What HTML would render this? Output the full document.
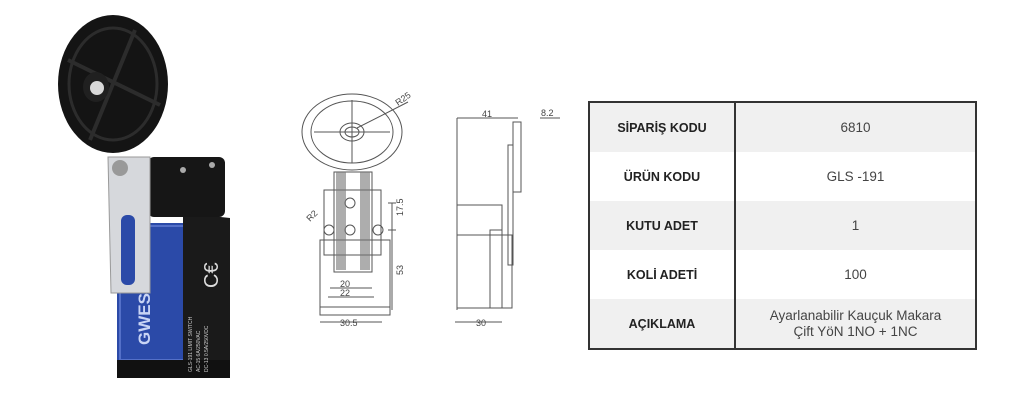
<!DOCTYPE html>
<html><head><meta charset="utf-8"><style>
body{margin:0;width:1024px;height:404px;background:#fff;overflow:hidden;position:relative;font-family:"Liberation Sans",sans-serif}
table{position:absolute;left:588px;top:101px;width:389px;height:246px;border-collapse:collapse;border:2px solid #333}
td{height:49px;text-align:center;font-size:13.5px;color:#444;padding:0;line-height:16px}
td.k{width:144px;border-right:2px solid #333;font-weight:bold;color:#222;font-size:12.5px}
tr:nth-child(odd) td{background:#f0f0f0}
</style></head><body>
<svg width="1024" height="404" style="position:absolute;left:0;top:0">
<!-- product photo -->
<rect x="117" y="223" width="70" height="140" fill="#2b4aa8"/>
<rect x="120" y="226" width="64" height="134" fill="none" stroke="#5470c8" stroke-width="2"/>
<polygon points="183,213 230,218 230,377 183,377" fill="#1a1a1a"/>
<rect x="117" y="360" width="113" height="18" fill="#111"/>
<rect x="148" y="157" width="77" height="60" rx="6" fill="#161616"/>
<circle cx="183" cy="170" r="3" fill="#aaa"/><circle cx="212" cy="165" r="3" fill="#aaa"/>
<text x="150" y="345" transform="rotate(-90 150 345)" fill="#c8d4f5" font-size="17" font-weight="bold">GWEST</text>
<text x="198" y="268" transform="rotate(-90 218 268)" fill="#ddd" font-size="20">C€</text>
<g fill="#ccc" font-size="5"><text x="192" y="372" transform="rotate(-90 192 372)">GLS-191 LIMIT SWITCH</text><text x="200" y="372" transform="rotate(-90 200 372)">AC-15 6A/250VAC</text><text x="208" y="372" transform="rotate(-90 208 372)">DC-13 0.5A/250VDC</text></g>
<polygon points="108,157 150,157 150,293 111,293" fill="#d6d8dc" stroke="#999"/>
<rect x="121" y="215" width="14" height="70" rx="6" fill="#2b4aa8"/>
<circle cx="120" cy="168" r="8" fill="#999"/>
<ellipse cx="113" cy="84" rx="55" ry="69" fill="#141414"/>
<ellipse cx="113" cy="84" rx="44" ry="56" fill="none" stroke="#2c2c2c" stroke-width="3"/>
<line x1="68" y1="60" x2="160" y2="105" stroke="#2c2c2c" stroke-width="4"/>
<line x1="90" y1="140" x2="135" y2="30" stroke="#2c2c2c" stroke-width="4"/>
<ellipse cx="96" cy="87" rx="13" ry="15" fill="#202020"/>
<circle cx="97" cy="88" r="7" fill="#d8d8d8"/>
<!-- front drawing -->
<g fill="none" stroke="#555" stroke-width="1">
<ellipse cx="352" cy="132" rx="50" ry="38"/>
<ellipse cx="352" cy="132" rx="41" ry="31"/>
<ellipse cx="352" cy="132" rx="12" ry="9"/>
<ellipse cx="352" cy="132" rx="7" ry="5"/>
<line x1="314" y1="132" x2="390" y2="132"/><line x1="352" y1="100" x2="352" y2="163"/>
<line x1="357" y1="128" x2="408" y2="102"/>
<rect x="334" y="172" width="38" height="100"/>
<rect x="324" y="190" width="57" height="65"/>
<rect x="320" y="240" width="70" height="75"/>
<rect x="320" y="307" width="70" height="8"/>
<circle cx="350" cy="230" r="5"/><circle cx="350" cy="203" r="5"/><circle cx="329" cy="230" r="5"/><circle cx="378" cy="230" r="5"/>
<line x1="330" y1="288" x2="372" y2="288"/><line x1="328" y1="297" x2="374" y2="297"/>
<line x1="320" y1="322" x2="382" y2="322"/>
<line x1="388" y1="203" x2="396" y2="203"/><line x1="388" y1="230" x2="396" y2="230"/><line x1="392" y1="203" x2="392" y2="310"/>
<!-- side drawing -->
<line x1="457" y1="118" x2="518" y2="118"/>
<line x1="457" y1="118" x2="457" y2="310"/>
<rect x="513" y="122" width="8" height="70"/>
<rect x="508" y="145" width="5" height="120"/>
<rect x="457" y="205" width="45" height="30"/>
<rect x="457" y="235" width="55" height="73"/>
<rect x="490" y="230" width="12" height="78"/>
<line x1="455" y1="322" x2="502" y2="322"/>
<line x1="540" y1="118" x2="560" y2="118"/>
</g>
<rect x="336" y="172" width="10" height="98" fill="#777" opacity=".6"/>
<rect x="360" y="172" width="10" height="98" fill="#777" opacity=".6"/>
<g font-size="9" fill="#444">
<text x="398" y="106" transform="rotate(-35 398 106)">R25</text>
<text x="340" y="287">20</text><text x="340" y="296">22</text>
<text x="340" y="326">30.5</text>
<text x="403" y="216" transform="rotate(-90 403 216)">17.5</text>
<text x="403" y="275" transform="rotate(-90 403 275)">53</text>
<text x="310" y="222" transform="rotate(-45 310 222)">R2</text>
<text x="482" y="117">41</text><text x="541" y="116">8.2</text><text x="476" y="326">30</text>
</g>
</svg>
<table>
<tr><td class="k">SİPARİŞ KODU</td><td>6810</td></tr>
<tr><td class="k">ÜRÜN KODU</td><td>GLS -191</td></tr>
<tr><td class="k">KUTU ADET</td><td>1</td></tr>
<tr><td class="k">KOLİ ADETİ</td><td>100</td></tr>
<tr><td class="k">AÇIKLAMA</td><td>Ayarlanabilir Kauçuk Makara<br>Çift YöN 1NO + 1NC</td></tr>
</table>
</body></html>
